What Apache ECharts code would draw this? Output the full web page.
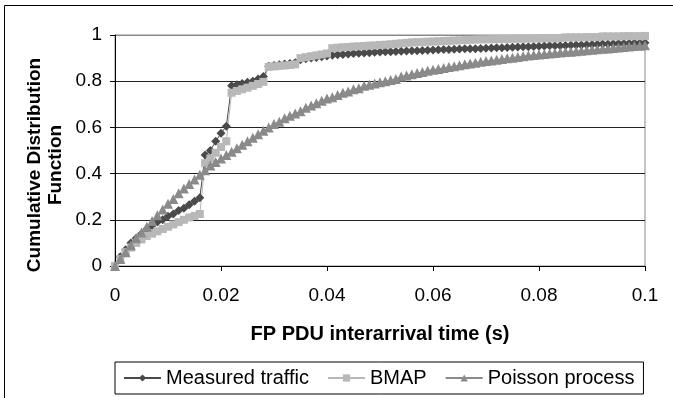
<!DOCTYPE html>
<html>
<head>
<meta charset="utf-8">
<script src="https://cdn.jsdelivr.net/npm/echarts@6/dist/echarts.min.js"></script>
<style>html,body{margin:0;padding:0;background:#fff;}#c{width:673px;height:398px;}</style>
</head>
<body>
<div id="c"></div>
<script>
const times = [0.000,0.001,0.002,0.003,0.004,0.005,0.006,0.007,0.008,0.009,
0.010,0.011,0.012,0.013,0.014,0.015,0.016,0.017,0.018,0.019,
0.020,0.021,0.022,0.023,0.024,0.025,0.026,0.027,0.028,0.029,
0.030,0.031,0.032,0.033,0.034,0.035,0.036,0.037,0.038,0.039,
0.040,0.041,0.042,0.043,0.044,0.045,0.046,0.047,0.048,0.049,
0.050,0.051,0.052,0.053,0.054,0.055,0.056,0.057,0.058,0.059,
0.060,0.061,0.062,0.063,0.064,0.065,0.066,0.067,0.068,0.069,
0.070,0.071,0.072,0.073,0.074,0.075,0.076,0.077,0.078,0.079,
0.080,0.081,0.082,0.083,0.084,0.085,0.086,0.087,0.088,0.089,
0.090,0.091,0.092,0.093,0.094,0.095,0.096,0.097,0.098,0.099,0.100];

const measured = [0,0.04,0.07,0.10,0.12,0.14,0.16,0.175,0.19,0.20,
0.215,0.225,0.24,0.25,0.265,0.28,0.295,0.48,0.50,0.54,
0.575,0.605,0.78,0.785,0.79,0.795,0.80,0.81,0.82,0.865,
0.868,0.871,0.874,0.877,0.88,0.893,0.897,0.90,0.903,0.906,
0.909,0.912,0.914,0.916,0.918,0.92,0.921,0.922,0.923,0.925,
0.926,0.927,0.928,0.929,0.93,0.931,0.932,0.932,0.933,0.934,
0.935,0.936,0.937,0.937,0.938,0.939,0.94,0.941,0.941,0.942,
0.943,0.944,0.945,0.945,0.946,0.947,0.948,0.949,0.949,0.95,
0.951,0.952,0.953,0.953,0.954,0.955,0.956,0.957,0.957,0.958,
0.959,0.96,0.961,0.961,0.962,0.963,0.963,0.964,0.965,0.965,0.966];

const bmap = [0,0.03,0.06,0.08,0.10,0.115,0.13,0.14,0.15,0.16,
0.17,0.18,0.19,0.20,0.21,0.217,0.225,0.445,0.465,0.49,
0.515,0.54,0.75,0.758,0.765,0.772,0.78,0.788,0.797,0.862,
0.864,0.866,0.868,0.87,0.873,0.90,0.904,0.908,0.912,0.916,
0.92,0.943,0.945,0.947,0.948,0.95,0.951,0.952,0.954,0.955,
0.957,0.958,0.96,0.962,0.964,0.966,0.968,0.969,0.97,0.971,
0.972,0.973,0.974,0.975,0.976,0.977,0.978,0.979,0.98,0.981,
0.981,0.982,0.982,0.983,0.983,0.984,0.984,0.984,0.985,0.985,
0.985,0.986,0.986,0.986,0.987,0.99,0.99,0.99,0.99,0.991,
0.991,0.991,0.994,0.994,0.994,0.994,0.995,0.995,0.995,0.995,0.996];

const poisson = [0,0.03,0.06,0.09,0.12,0.145,0.17,0.195,0.22,0.245,
0.27,0.29,0.315,0.335,0.355,0.375,0.395,0.415,0.435,0.45,
0.465,0.48,0.495,0.51,0.525,0.54,0.555,0.57,0.585,0.60,
0.615,0.625,0.64,0.65,0.66,0.67,0.685,0.695,0.705,0.715,
0.725,0.73,0.74,0.75,0.755,0.765,0.77,0.78,0.785,0.79,
0.795,0.80,0.805,0.81,0.82,0.825,0.83,0.835,0.84,0.845,
0.85,0.853,0.857,0.861,0.865,0.869,0.873,0.877,0.88,0.884,
0.887,0.89,0.893,0.896,0.899,0.902,0.905,0.908,0.911,0.913,
0.916,0.918,0.92,0.922,0.924,0.926,0.928,0.93,0.932,0.934,
0.936,0.938,0.94,0.942,0.944,0.946,0.948,0.95,0.952,0.954,0.956];

const seriesNames = ['Measured traffic','BMAP','Poisson process'];
const xTitle = 'FP PDU interarrival time (s)';
const yTitleLines = ['Cumulative Distribution','Function'];

const FONT = '"Liberation Sans", Arial, sans-serif';
const zip = v => times.map((t,i) => [t, v[i]]);

const chart = echarts.init(document.getElementById('c'), null, {renderer:'canvas'});
chart.setOption({
  animation: false,
  backgroundColor: '#fff',
  grid: {left:115, right:28, top:35, bottom:132, show:true, borderColor:'#888', borderWidth:1},
  xAxis: {
    type:'value', min:0, max:0.1, interval:0.02,
    axisLine:{show:true, lineStyle:{color:'#000', width:1}},
    axisTick:{show:true, inside:false, length:5, lineStyle:{color:'#000'}},
    axisLabel:{color:'#000', fontSize:19, fontFamily:FONT, margin:20,
      formatter: v => String(+v.toFixed(2))},
    splitLine:{show:false},
    name: xTitle, nameLocation:'middle', nameGap:58,
    nameTextStyle:{color:'#000', fontSize:20, fontWeight:'bold', fontFamily:FONT}
  },
  yAxis: {
    type:'value', min:0, max:1, interval:0.2,
    axisLine:{show:true, lineStyle:{color:'#000', width:1}},
    axisTick:{show:true, inside:false, length:5, lineStyle:{color:'#000'}},
    axisLabel:{color:'#000', fontSize:19, fontFamily:FONT, margin:13,
      formatter: v => String(+v.toFixed(1))},
    splitLine:{show:true, lineStyle:{color:['#222','#222','#222','#222','#222','#888'], width:1}}
  },
  legend: {
    left:115, top:362, orient:'horizontal',
    data: seriesNames,
    borderColor:'#000', borderWidth:1, borderRadius:0,
    padding:[6,9,6,8], itemGap:18, itemWidth:37, itemHeight:9,
    textStyle:{color:'#000', fontSize:20, fontFamily:FONT}
  },
  graphic: [
    {type:'rect', shape:{x:4.5, y:5.5, width:700, height:450}, style:{fill:null, stroke:'#000', lineWidth:1}, silent:true, z:-10},
    {type:'text', x:35, y:165, rotation:Math.PI/2, style:{text:yTitleLines[0], fill:'#000', font:'bold 19px ' + FONT, textAlign:'center', textVerticalAlign:'middle'}},
    {type:'text', x:56, y:165, rotation:Math.PI/2, style:{text:yTitleLines[1], fill:'#000', font:'bold 19px ' + FONT, textAlign:'center', textVerticalAlign:'middle'}}
  ],
  series: [
    {name:seriesNames[0], type:'line', data:zip(measured), symbol:'diamond', symbolSize:9,
      lineStyle:{color:'#4a4a4a', width:1}, itemStyle:{color:'#4a4a4a'}},
    {name:seriesNames[1], type:'line', data:zip(bmap), symbol:'rect', symbolSize:8,
      lineStyle:{color:'#b8b8b8', width:1}, itemStyle:{color:'#b8b8b8'}},
    {name:seriesNames[2], type:'line', data:zip(poisson), symbol:'triangle', symbolSize:10,
      lineStyle:{color:'#8a8a8a', width:1}, itemStyle:{color:'#8a8a8a'}}
  ]
});
</script>
</body>
</html>
